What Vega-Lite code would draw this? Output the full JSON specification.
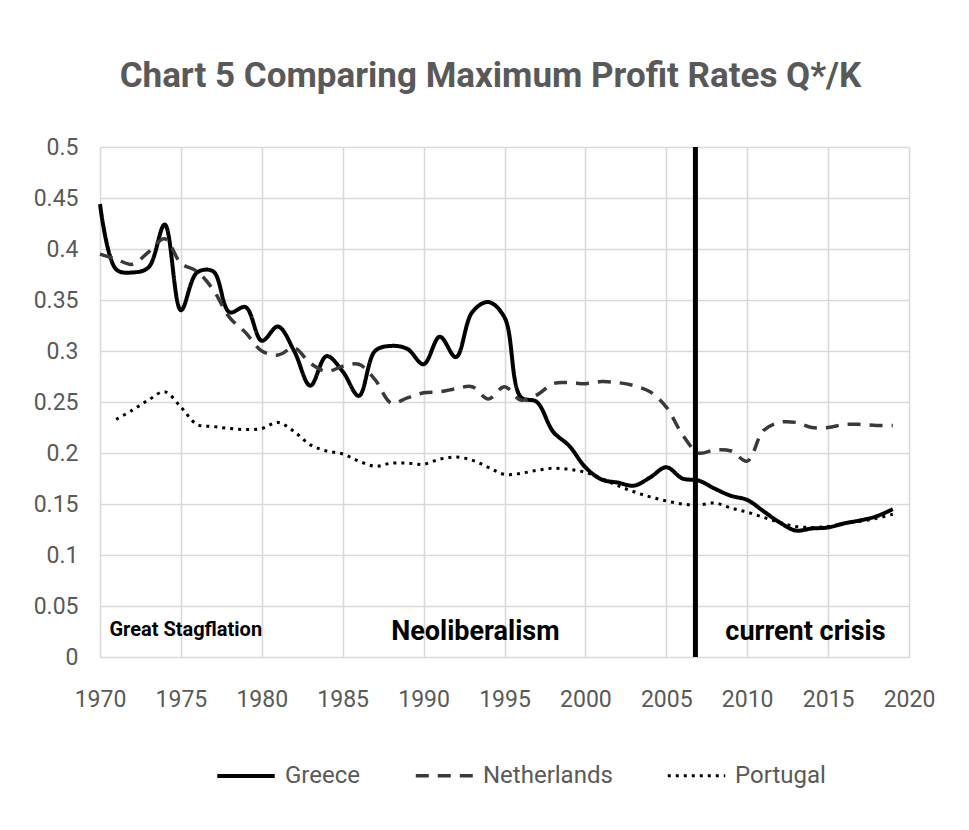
{
  "$schema": "https://vega.github.io/schema/vega-lite/v6.json",
  "width": 809,
  "height": 510,
  "autosize": {"type": "none"},
  "padding": {"left": 100, "top": 147, "right": 60, "bottom": 173},
  "background": "white",
  "title": {
    "text": "Chart 5 Comparing Maximum Profit Rates Q*/K",
    "font": "Roboto",
    "fontSize": 35,
    "fontWeight": "bold",
    "color": "#595959",
    "anchor": "middle",
    "frame": "group",
    "dx": -14,
    "offset": 42
  },
  "config": {
    "view": {"stroke": null},
    "axis": {
      "labelFont": "Roboto",
      "labelFontSize": 23,
      "labelColor": "#595959",
      "ticks": false,
      "domain": false,
      "grid": true,
      "gridColor": "#d9d9d9",
      "gridWidth": 1.6,
      "title": null,
      "labelFlush": false,
      "labelOverlap": false
    },
    "legend": {
      "orient": "none",
      "legendX": 115,
      "legendY": 598,
      "direction": "horizontal",
      "title": null,
      "labelFont": "Roboto",
      "labelFontSize": 24,
      "labelColor": "#595959",
      "symbolType": "stroke",
      "symbolSize": 3300,
      "columnPadding": 48,
      "labelOffset": 8
    }
  },
  "layer": [
    {
      "data": {"values": [
        {"year":1970,"country":"Greece","v":0.444},{"year":1971,"country":"Greece","v":0.380},{"year":1972,"country":"Greece","v":0.377},{"year":1973,"country":"Greece","v":0.382},{"year":1974,"country":"Greece","v":0.424},{"year":1975,"country":"Greece","v":0.340},{"year":1976,"country":"Greece","v":0.377},{"year":1977,"country":"Greece","v":0.378},{"year":1978,"country":"Greece","v":0.338},{"year":1979,"country":"Greece","v":0.343},{"year":1980,"country":"Greece","v":0.310},{"year":1981,"country":"Greece","v":0.324},{"year":1982,"country":"Greece","v":0.300},{"year":1983,"country":"Greece","v":0.266},{"year":1984,"country":"Greece","v":0.295},{"year":1985,"country":"Greece","v":0.280},{"year":1986,"country":"Greece","v":0.256},{"year":1987,"country":"Greece","v":0.300},{"year":1988,"country":"Greece","v":0.305},{"year":1989,"country":"Greece","v":0.302},{"year":1990,"country":"Greece","v":0.287},{"year":1991,"country":"Greece","v":0.314},{"year":1992,"country":"Greece","v":0.294},{"year":1993,"country":"Greece","v":0.338},{"year":1994,"country":"Greece","v":0.348},{"year":1995,"country":"Greece","v":0.333},{"year":1996,"country":"Greece","v":0.255},{"year":1997,"country":"Greece","v":0.250},{"year":1998,"country":"Greece","v":0.221},{"year":1999,"country":"Greece","v":0.207},{"year":2000,"country":"Greece","v":0.186},{"year":2001,"country":"Greece","v":0.174},{"year":2002,"country":"Greece","v":0.171},{"year":2003,"country":"Greece","v":0.168},{"year":2004,"country":"Greece","v":0.176},{"year":2005,"country":"Greece","v":0.186},{"year":2006,"country":"Greece","v":0.175},{"year":2007,"country":"Greece","v":0.173},{"year":2008,"country":"Greece","v":0.165},{"year":2009,"country":"Greece","v":0.158},{"year":2010,"country":"Greece","v":0.154},{"year":2011,"country":"Greece","v":0.143},{"year":2012,"country":"Greece","v":0.132},{"year":2013,"country":"Greece","v":0.124},{"year":2014,"country":"Greece","v":0.126},{"year":2015,"country":"Greece","v":0.127},{"year":2016,"country":"Greece","v":0.131},{"year":2017,"country":"Greece","v":0.134},{"year":2018,"country":"Greece","v":0.138},{"year":2019,"country":"Greece","v":0.145},
        {"year":1970,"country":"Netherlands","v":0.395},{"year":1971,"country":"Netherlands","v":0.390},{"year":1972,"country":"Netherlands","v":0.385},{"year":1973,"country":"Netherlands","v":0.397},{"year":1974,"country":"Netherlands","v":0.410},{"year":1975,"country":"Netherlands","v":0.386},{"year":1976,"country":"Netherlands","v":0.378},{"year":1977,"country":"Netherlands","v":0.360},{"year":1978,"country":"Netherlands","v":0.333},{"year":1979,"country":"Netherlands","v":0.318},{"year":1980,"country":"Netherlands","v":0.300},{"year":1981,"country":"Netherlands","v":0.296},{"year":1982,"country":"Netherlands","v":0.303},{"year":1983,"country":"Netherlands","v":0.288},{"year":1984,"country":"Netherlands","v":0.280},{"year":1985,"country":"Netherlands","v":0.285},{"year":1986,"country":"Netherlands","v":0.287},{"year":1987,"country":"Netherlands","v":0.272},{"year":1988,"country":"Netherlands","v":0.249},{"year":1989,"country":"Netherlands","v":0.254},{"year":1990,"country":"Netherlands","v":0.259},{"year":1991,"country":"Netherlands","v":0.260},{"year":1992,"country":"Netherlands","v":0.263},{"year":1993,"country":"Netherlands","v":0.265},{"year":1994,"country":"Netherlands","v":0.253},{"year":1995,"country":"Netherlands","v":0.265},{"year":1996,"country":"Netherlands","v":0.252},{"year":1997,"country":"Netherlands","v":0.257},{"year":1998,"country":"Netherlands","v":0.268},{"year":1999,"country":"Netherlands","v":0.269},{"year":2000,"country":"Netherlands","v":0.268},{"year":2001,"country":"Netherlands","v":0.270},{"year":2002,"country":"Netherlands","v":0.269},{"year":2003,"country":"Netherlands","v":0.266},{"year":2004,"country":"Netherlands","v":0.260},{"year":2005,"country":"Netherlands","v":0.245},{"year":2006,"country":"Netherlands","v":0.218},{"year":2007,"country":"Netherlands","v":0.200},{"year":2008,"country":"Netherlands","v":0.203},{"year":2009,"country":"Netherlands","v":0.202},{"year":2010,"country":"Netherlands","v":0.192},{"year":2011,"country":"Netherlands","v":0.222},{"year":2012,"country":"Netherlands","v":0.230},{"year":2013,"country":"Netherlands","v":0.230},{"year":2014,"country":"Netherlands","v":0.225},{"year":2015,"country":"Netherlands","v":0.225},{"year":2016,"country":"Netherlands","v":0.228},{"year":2017,"country":"Netherlands","v":0.228},{"year":2018,"country":"Netherlands","v":0.227},{"year":2019,"country":"Netherlands","v":0.227},
        {"year":1971,"country":"Portugal","v":0.233},{"year":1972,"country":"Portugal","v":0.242},{"year":1973,"country":"Portugal","v":0.252},{"year":1974,"country":"Portugal","v":0.260},{"year":1975,"country":"Portugal","v":0.245},{"year":1976,"country":"Portugal","v":0.228},{"year":1977,"country":"Portugal","v":0.226},{"year":1978,"country":"Portugal","v":0.224},{"year":1979,"country":"Portugal","v":0.223},{"year":1980,"country":"Portugal","v":0.224},{"year":1981,"country":"Portugal","v":0.230},{"year":1982,"country":"Portugal","v":0.221},{"year":1983,"country":"Portugal","v":0.208},{"year":1984,"country":"Portugal","v":0.202},{"year":1985,"country":"Portugal","v":0.199},{"year":1986,"country":"Portugal","v":0.192},{"year":1987,"country":"Portugal","v":0.187},{"year":1988,"country":"Portugal","v":0.190},{"year":1989,"country":"Portugal","v":0.190},{"year":1990,"country":"Portugal","v":0.189},{"year":1991,"country":"Portugal","v":0.194},{"year":1992,"country":"Portugal","v":0.196},{"year":1993,"country":"Portugal","v":0.193},{"year":1994,"country":"Portugal","v":0.186},{"year":1995,"country":"Portugal","v":0.179},{"year":1996,"country":"Portugal","v":0.180},{"year":1997,"country":"Portugal","v":0.183},{"year":1998,"country":"Portugal","v":0.185},{"year":1999,"country":"Portugal","v":0.184},{"year":2000,"country":"Portugal","v":0.181},{"year":2001,"country":"Portugal","v":0.175},{"year":2002,"country":"Portugal","v":0.168},{"year":2003,"country":"Portugal","v":0.162},{"year":2004,"country":"Portugal","v":0.157},{"year":2005,"country":"Portugal","v":0.153},{"year":2006,"country":"Portugal","v":0.150},{"year":2007,"country":"Portugal","v":0.149},{"year":2008,"country":"Portugal","v":0.151},{"year":2009,"country":"Portugal","v":0.146},{"year":2010,"country":"Portugal","v":0.142},{"year":2011,"country":"Portugal","v":0.137},{"year":2012,"country":"Portugal","v":0.132},{"year":2013,"country":"Portugal","v":0.128},{"year":2014,"country":"Portugal","v":0.127},{"year":2015,"country":"Portugal","v":0.128},{"year":2016,"country":"Portugal","v":0.131},{"year":2017,"country":"Portugal","v":0.133},{"year":2018,"country":"Portugal","v":0.136},{"year":2019,"country":"Portugal","v":0.140}
      ]},
      "mark": {"type": "line", "interpolate": "catmull-rom"},
      "encoding": {
        "x": {
          "field": "year", "type": "quantitative",
          "scale": {"domain": [1970, 2020], "nice": false, "zero": false},
          "axis": {"values": [1970,1975,1980,1985,1990,1995,2000,2005,2010,2015,2020], "format": "d", "labelPadding": 31}
        },
        "y": {
          "field": "v", "type": "quantitative",
          "scale": {"domain": [0, 0.5], "nice": false},
          "axis": {"values": [0,0.05,0.1,0.15,0.2,0.25,0.3,0.35,0.4,0.45,0.5], "format": "~g", "labelPadding": 22}
        },
        "color": {
          "field": "country", "type": "nominal",
          "scale": {"domain": ["Greece","Netherlands","Portugal"], "range": ["#000000","#3a3a3a","#000000"]}
        },
        "strokeDash": {
          "field": "country", "type": "nominal",
          "scale": {"domain": ["Greece","Netherlands","Portugal"], "range": [[1,0],[13,9],[3,5]]}
        },
        "strokeWidth": {
          "field": "country", "type": "ordinal",
          "scale": {"domain": ["Greece","Netherlands","Portugal"], "range": [4,3,3.5]}
        }
      }
    },
    {
      "data": {"values": [{"year": 2006.8}]},
      "mark": {"type": "rule", "color": "#000000", "strokeWidth": 5},
      "encoding": {"x": {"field": "year", "type": "quantitative"}}
    },
    {
      "data": {"values": [
        {"year": 1975.3, "v": 0.0206, "label": "Great Stagflation", "size": 20},
        {"year": 1993.2, "v": 0.0167, "label": "Neoliberalism", "size": 27},
        {"year": 2013.6, "v": 0.0167, "label": "current crisis", "size": 27}
      ]},
      "mark": {"type": "text", "font": "Roboto", "fontWeight": "bold", "color": "#000000", "baseline": "alphabetic", "align": "center"},
      "encoding": {
        "x": {"field": "year", "type": "quantitative"},
        "y": {"field": "v", "type": "quantitative"},
        "text": {"field": "label"},
        "size": {"field": "size", "type": "quantitative", "scale": null, "legend": null}
      }
    }
  ]
}
